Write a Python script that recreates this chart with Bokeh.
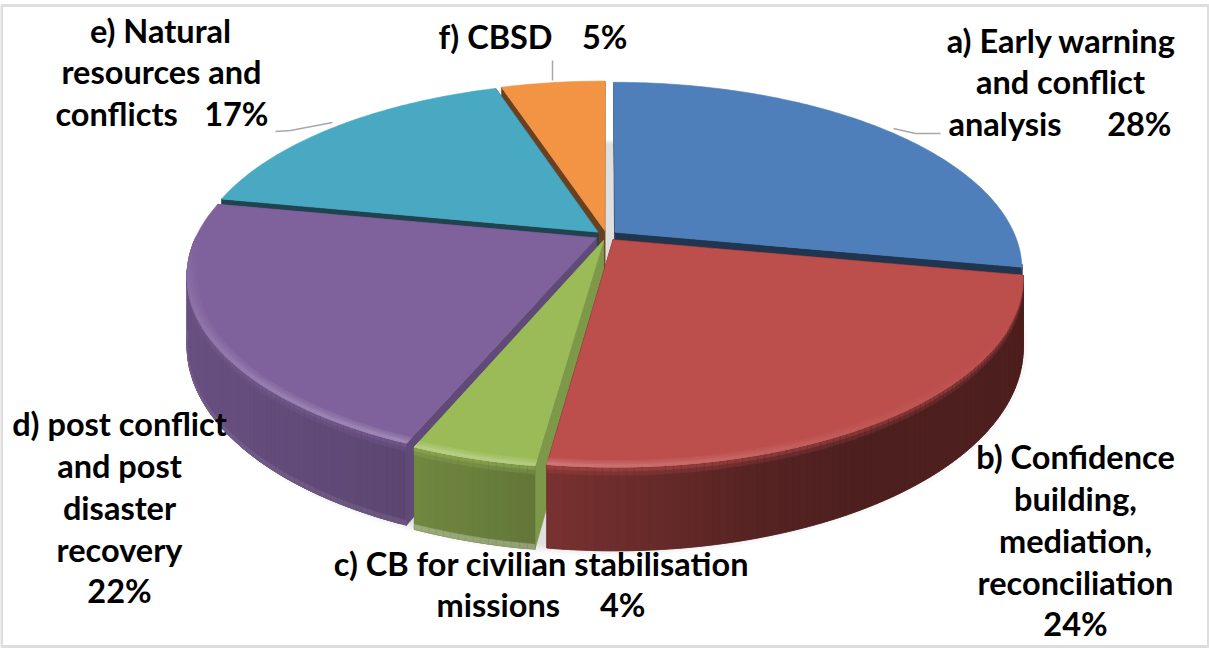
import numpy as np
from bokeh.embed import file_html
from bokeh.models import ColumnDataSource, Range1d
from bokeh.plotting import figure
from bokeh.resources import INLINE
from bokeh.core.properties import value

# Shares of each topic, clockwise from twelve o'clock
topics = ["a", "b", "c", "d", "e", "f"]
shares = [28, 24, 4, 22, 17, 5]

# Slice colours: top face and the cut faces that show between slices
face_colors = ["#4e7fba", "#bc4e4c", "#9bbb59", "#7f619c", "#49a9c3", "#f39444"]
cut_colors = ["#1f3550", "#4d1d1d", "#7d9849", "#5f4a78", "#1f4450", "#6b4020"]
foot_glow = [0, 0, 0.3, 0.08, 0, 0]

# Label pieces: (text, x, y, align)
label_pieces = [
    ("a) Early warning", 1061, 40, "center"),
    ("and conflict", 1060, 81, "center"),
    ("analysis", 948, 123, "left"),
    (f"{shares[0]}%", 1171, 123, "right"),
    ("b) Confidence", 1075, 456, "center"),
    ("building,", 1075, 498, "center"),
    ("mediation,", 1075, 540, "center"),
    ("reconciliation", 1075, 582, "center"),
    (f"{shares[1]}%", 1075, 623, "center"),
    ("c) CB for civilian stabilisation", 541, 563, "center"),
    ("missions", 436, 604, "left"),
    (f"{shares[2]}%", 645, 604, "right"),
    ("d) post conflict", 119, 423, "center"),
    ("and post", 119, 465, "center"),
    ("disaster", 119, 507, "center"),
    ("recovery", 119, 549, "center"),
    (f"{shares[3]}%", 119, 590, "center"),
    ("e) Natural", 160, 30, "center"),
    ("resources and", 161, 71, "center"),
    ("conflicts", 55, 113, "left"),
    (f"{shares[4]}%", 268, 113, "right"),
    ("f) CBSD", 438, 36, "left"),
    (f"{shares[5]}%", 627, 36, "right"),
]

# Leader lines from labels to slices
leader_xs = [[893, 915, 940], [275, 290, 332], [552, 552]]
leader_ys = [[128, 133, 133], [131, 130, 122], [60, 80]]

# Perspective of the disc
CX, CY = 606.0, 235.0
A, B, K = 400.0, 180.7, 0.197
DEPTH = 67.0
EXPLODE = 0.028
STEPS_PER_PERCENT = 4


def view_angle(t):
    # Slight angular stretch of the near-left quadrant under the camera tilt
    deg = np.degrees(t)
    return t + np.radians(1.2 * np.exp(-((deg - 225.0) / 45.0) ** 2))


def project(u, v, z=0.0):
    w = 1.0 - K * np.asarray(v, dtype=float)
    return CX + A * np.asarray(u, dtype=float) / w, CY + (B * np.asarray(v, dtype=float) + DEPTH * z) / w


def rgb(color):
    return np.array([int(color[i:i + 2], 16) for i in (1, 3, 5)], dtype=float)


def to_hex(c):
    c = np.clip(np.round(c), 0, 255).astype(int)
    return "#%02x%02x%02x" % tuple(c)


def wall_shade(u):
    return np.interp(u, [-1, -0.4, -0.12, 0.3, 0.5, 1], [0.84, 0.73, 0.63, 0.45, 0.41, 0.41])


def rim_strength(u, v):
    return max(v, 0.0) ** 0.7 * np.interp(u, [-1, -0.3, 0.5, 1], [0.75, 1.0, 0.25, 0.0])


WHITE = np.array([255.0, 255.0, 255.0])
xs, ys, fills = [], [], []


def add(px, py, color):
    xs.append(list(map(float, px)))
    ys.append(list(map(float, py)))
    fills.append(color)


fractions = np.cumsum([0] + shares) / sum(shares)
draw_order = [5, 0, 4, 3, 2, 1]

for i in draw_order:
    t0, t1 = view_angle(2 * np.pi * fractions[i]), view_angle(2 * np.pi * fractions[i + 1])
    mid = (t0 + t1) / 2
    du, dv = EXPLODE * np.sin(mid), -EXPLODE * np.cos(mid)
    n = max(int(shares[i] * STEPS_PER_PERCENT), 8)
    t = np.linspace(t0, t1, n + 1)
    u, v = du + np.sin(t), dv - np.cos(t)
    base = rgb(face_colors[i])

    # Cut faces on both sides of the wedge
    for tt in (t0, t1):
        ou, ov = du + np.sin(tt), dv - np.cos(tt)
        a_top = project(du, dv)
        a_low = project(du, dv, 1)
        o_top = project(ou, ov)
        o_low = project(ou, ov, 1)
        add([a_top[0], o_top[0], o_low[0], a_low[0]], [a_top[1], o_top[1], o_low[1], a_low[1]], cut_colors[i])

    # Outer wall as narrow strips shaded by direction; only the part that faces the camera
    for j in range(n):
        e = min(j + 2, n)
        tm = (t[j] + t[j + 1]) / 2
        if -np.cos(tm) < K - 0.03:
            continue
        wall = base * wall_shade(np.sin(tm))
        uq, vq = u[[j, e, e, j]], v[[j, e, e, j]]
        px, py = project(uq, vq, np.array([0, 0, 1, 1]))
        add(px, py, to_hex(wall))
        # Soft transition at the head of the wall
        for z_low, mix in [(0.10, 0.22), (0.05, 0.5)]:
            px, py = project(uq, vq, np.array([0, 0, z_low, z_low]))
            add(px, py, to_hex(wall + (base - wall) * mix))
        if foot_glow[i] > 0:
            px, py = project(uq, vq, np.array([0.94, 0.94, 1, 1]))
            add(px, py, to_hex(wall + (WHITE - wall) * foot_glow[i]))

    # Top face
    px, py = project(np.r_[du, u], np.r_[dv, v])
    add(px, py, face_colors[i])

    # Bright bevel along the front rim of the top face
    for r_in, gain in [(0.978, 0.10), (0.986, 0.18), (0.993, 0.27)]:
        for j in range(n):
            e = min(j + 2, n)
            tm = (t[j] + t[j + 1]) / 2
            s = rim_strength(np.sin(tm), -np.cos(tm))
            if s < 0.03:
                continue
            color = to_hex(base + (WHITE - base) * gain * s)
            s0, c0, s1, c1 = np.sin(t[j]), -np.cos(t[j]), np.sin(t[e]), -np.cos(t[e])
            pu = np.array([s0 * r_in, s1 * r_in, s1, s0]) + du
            pv = np.array([c0 * r_in, c1 * r_in, c1, c0]) + dv
            px, py = project(pu, pv)
            add(px, py, color)

fig = figure(width=1209, height=648, x_range=Range1d(0, 1209), y_range=Range1d(648, 0),
             output_backend="svg", toolbar_location=None, min_border=0,
             background_fill_color="#ffffff", border_fill_color="#ffffff", outline_line_color=None)
fig.axis.visible = False
fig.grid.visible = False

# Frame
fig.quad(left=[1], right=[1208], top=[5], bottom=[646], fill_color=None, line_color="#dedede", line_width=3)

# Soft shadow under the pie
for scale in np.linspace(1.0, 1.03, 8):
    th = np.linspace(0, 2 * np.pi, 240)
    px, py = project(scale * np.sin(th), -scale * np.cos(th), 1.0)
    fig.patch(px + 1, py + 3, fill_color="#000000", fill_alpha=0.017, line_color=None)

fig.patches("xs", "ys", source=ColumnDataSource(dict(xs=xs, ys=ys, fills=fills)),
            fill_color="fills", line_color="fills", line_width=0.6)

fig.multi_line(leader_xs, leader_ys, line_color="#a8a8a8", line_width=1.5)

labels = ColumnDataSource(dict(
    text=[p[0] for p in label_pieces],
    x=[p[1] for p in label_pieces],
    y=[p[2] for p in label_pieces],
    align=[p[3] for p in label_pieces],
))
fig.text("x", "y", text="text", text_align="align", source=labels, text_baseline="middle",
         text_font=value("Lato"), text_font_style="bold", text_font_size="32.5px", text_color="#000000")

open("out.html", "w").write(file_html(fig, INLINE))
